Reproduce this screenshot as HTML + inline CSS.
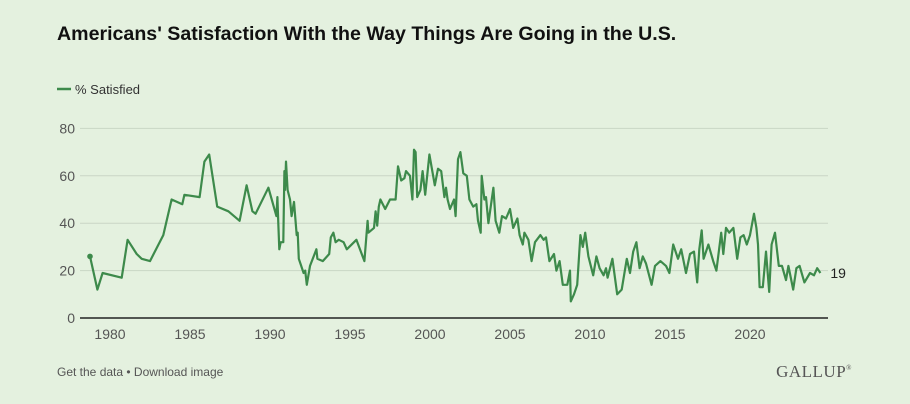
<!DOCTYPE html>
<html><head><meta charset="utf-8"><style>
body{margin:0;background:#e4f1df;width:910px;height:404px;overflow:hidden;font-family:"Liberation Sans",sans-serif}
svg{position:absolute;left:0;top:0}
</style></head><body>
<svg width="910" height="404">
<text x="57" y="40" font-size="19.6" font-weight="bold" fill="#111">Americans' Satisfaction With the Way Things Are Going in the U.S.</text>
<g><line x1="57" y1="89" x2="71" y2="89" stroke="#3d8a4b" stroke-width="2.5"/><text x="75" y="94" font-size="13" fill="#333">% Satisfied</text></g>
<g id="grid"></g><g id="xt"></g>
<path id="ln" fill="none" stroke="#3d8a4b" stroke-width="2.2" stroke-linejoin="round"/>
<circle id="dot" r="2.8" fill="#3d8a4b"/>
<text id="lastlbl" font-size="14" fill="#222"></text>
<text x="57" y="376" font-size="12" fill="#555">Get the data • Download image</text>
<text x="852" y="377" font-size="17" fill="#555" text-anchor="end" font-family="Liberation Serif,serif" letter-spacing="0.5">GALLUP<tspan font-size="7" dy="-7">®</tspan></text>
</svg>
<script>
const years=[1978.75,1979.21,1979.54,1980.73,1981.1,1981.67,1981.98,1982.5,1983.33,1983.85,1984.52,1984.65,1985.6,1985.9,1986.2,1986.7,1987.4,1988.1,1988.54,1988.9,1989.1,1989.9,1990.4,1990.46,1990.52,1990.58,1990.67,1990.83,1990.9,1990.94,1991.0,1991.1,1991.25,1991.35,1991.5,1991.67,1991.73,1991.8,1991.9,1992.1,1992.2,1992.3,1992.5,1992.9,1992.96,1993.3,1993.7,1993.8,1993.96,1994.1,1994.3,1994.6,1994.8,1995.4,1995.9,1996.1,1996.15,1996.5,1996.6,1996.7,1996.8,1996.9,1997.2,1997.5,1997.85,1998.0,1998.2,1998.4,1998.5,1998.75,1998.9,1999.0,1999.1,1999.2,1999.4,1999.54,1999.7,1999.96,2000.3,2000.5,2000.7,2000.9,2001.0,2001.1,2001.25,2001.5,2001.6,2001.75,2001.9,2002.08,2002.3,2002.46,2002.7,2002.9,2003.0,2003.17,2003.23,2003.4,2003.5,2003.65,2003.96,2004.1,2004.33,2004.5,2004.75,2005.0,2005.2,2005.46,2005.6,2005.8,2005.9,2006.15,2006.35,2006.56,2006.9,2007.1,2007.25,2007.46,2007.75,2007.9,2008.1,2008.3,2008.58,2008.75,2008.8,2009.0,2009.2,2009.4,2009.55,2009.7,2009.9,2010.2,2010.4,2010.6,2010.85,2011.0,2011.1,2011.4,2011.7,2011.98,2012.3,2012.5,2012.7,2012.9,2013.1,2013.3,2013.5,2013.85,2014.06,2014.4,2014.75,2014.96,2015.2,2015.5,2015.7,2016.0,2016.25,2016.5,2016.7,2016.83,2016.98,2017.1,2017.4,2017.7,2017.9,2018.2,2018.33,2018.5,2018.7,2018.96,2019.2,2019.4,2019.6,2019.8,2020.0,2020.25,2020.4,2020.5,2020.6,2020.8,2021.0,2021.2,2021.35,2021.56,2021.8,2022.0,2022.25,2022.4,2022.7,2022.9,2023.1,2023.4,2023.75,2024.0,2024.2,2024.4];
const values=[26,12,19,17,33,27,25,24,35,50,48,52,51,66,69,47,45,41,56,45,44,55,43,51,40,29,32,32,62,54,66,54,50,43,49,35,36,25,23,19,20,14,22,29,25,24,27,34,36,32,33,32,29,33,24,41,36,38,45,39,47,50,46,50,50,64,58,59,62,60,50,71,70,51,54,62,52,69,56,63,62,51,55,50,46,50,43,67,70,61,60,50,47,48,41,36,60,50,51,40,55,41,36,43,42,46,38,42,35,31,36,33,24,32,35,33,34,24,27,20,24,14,14,20,7,10,14,35,30,36,26,18,26,21,18,21,17,25,10,12,25,19,28,32,21,26,23,14,22,24,22,19,31,25,29,19,27,28,15,29,37,25,31,24,20,36,27,38,36,38,25,34,35,31,35,44,38,31,13,13,28,11,31,36,22,22,16,22,12,21,22,15,19,18,21,19];
const yTicks=[0,20,40,60,80];
const xTicks=[1980,1985,1990,1995,2000,2005,2010,2015,2020];
const X=t=>110+(t-1980)*16, Y=v=>318-v*2.37;
const ns="http://www.w3.org/2000/svg";
const g=document.getElementById('grid');
yTicks.forEach(v=>{
 const l=document.createElementNS(ns,'line');
 l.setAttribute('x1',80);l.setAttribute('x2',828);l.setAttribute('y1',Y(v));l.setAttribute('y2',Y(v));
 l.setAttribute('stroke',v===0?'#222':'#c9d6c5');l.setAttribute('stroke-width',v===0?1.5:1);
 
 
 g.appendChild(l);
 const t=document.createElementNS(ns,'text');
 t.setAttribute('x',75);t.setAttribute('y',Y(v)+5);t.setAttribute('text-anchor','end');t.setAttribute('font-size',14);t.setAttribute('fill','#555');
 t.textContent=v;
 
 
 g.appendChild(t);
});
const xt=document.getElementById('xt');
xTicks.forEach(y=>{
 const t=document.createElementNS(ns,'text');
 t.setAttribute('x',X(y));t.setAttribute('y',339);t.setAttribute('text-anchor','middle');t.setAttribute('font-size',14);t.setAttribute('fill','#555');
 t.textContent=y;
 
 
 xt.appendChild(t);
});
document.getElementById('ln').setAttribute('d',years.map((t,i)=>(i?'L':'M')+X(t).toFixed(1)+','+Y(values[i]).toFixed(1)).join(''));
const d=document.getElementById('dot');d.setAttribute('cx',X(years[0]));d.setAttribute('cy',Y(values[0]));
const ll=document.getElementById('lastlbl');const n=years.length-1;
ll.setAttribute('x',X(years[n])+10);ll.setAttribute('y',Y(values[n])+5);ll.textContent=values[n];
</script>
</body></html>
